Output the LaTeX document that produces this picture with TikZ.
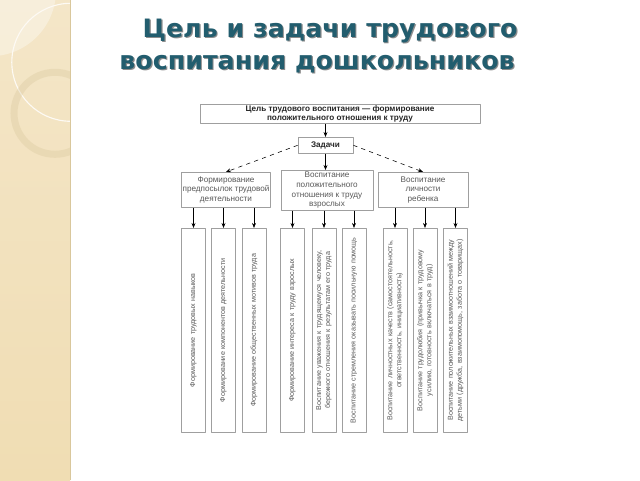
\documentclass[tikz,border=0pt]{standalone}
\usepackage{fontspec}
\setmainfont{Liberation Sans}
\newfontfamily\titlefont{DejaVu Sans}
\usetikzlibrary{arrows.meta}
\definecolor{titleteal}{HTML}{225D6E}
\definecolor{stripA}{HTML}{F4E6C8}
\definecolor{stripB}{HTML}{F0DDB3}
\definecolor{stripedge}{HTML}{D9C79C}
\begin{document}
\begin{tikzpicture}[>={Stealth[length=3.5pt,width=2.8pt]},line join=round,
	box/.style={draw=gray!75,line width=0.5pt,fill=white,inner sep=1pt,align=center,text=black!65,font=\fontsize{5.8}{6.8}\selectfont},
	vbox/.style={box,rotate=90,minimum width=5.1cm,minimum height=0.6cm,text width=5cm,font=\fontsize{5.1}{6.4}\selectfont},
	headbox/.style={box,text=black!85,font=\bfseries\fontsize{5.8}{6.3}\selectfont},
	ttl/.style={font=\titlefont\bfseries\fontsize{18}{20}\selectfont,text=titleteal,inner sep=0pt}]
	% background and left strip
	\fill[white] (0,0) rectangle (16,-12);
	\shade[top color=stripA,bottom color=stripB] (0,0) rectangle (1.75,-12);
	\begin{scope}
		\clip (0,0) rectangle (1.75,-12);
		\fill[white,opacity=0.35] (-0.25,0.25) circle (1.65);
		\draw[white!80!stripA,line width=0.8pt] (1.77,-1.55) circle (1.475);
		\draw[stripedge,opacity=0.35,line width=5pt] (1.375,-2.825) circle (1.025);
	\end{scope}
	\draw[stripedge] (1.75,0)--(1.75,-12);
	% title
	\node[ttl,text=black!45] (ttl1s) at (8.28,-0.805) {Цель и задачи трудового};
	\node[ttl] (ttl1) at (8.25,-0.775) {Цель и задачи трудового};
	\node[ttl,text=black!45] (ttl2s) at (7.955,-1.63) {воспитания дошкольников};
	\node[ttl] (ttl2) at (7.925,-1.6) {воспитания дошкольников};
	% scheme
	\node[headbox,minimum width=7cm,minimum height=0.475cm] (goal) at (8.5,-2.8375) {Цель трудового воспитания — формирование\\положительного отношения к труду};
	\node[headbox,minimum width=1.375cm,minimum height=0.4cm] (tasks) at (8.1375,-3.625) {Задачи};
	\node[box,minimum width=2.2cm,minimum height=0.875cm] (pre) at (5.65,-4.7375) {Формирование\\предпосылок трудовой\\деятельности};
	\node[box,minimum width=2.3cm,minimum height=1cm] (att) at (8.175,-4.75) {Воспитание\\положительного\\отношения к труду\\взрослых};
	\node[box,minimum width=2.25cm,minimum height=0.875cm] (pers) at (10.575,-4.7375) {Воспитание\\личности\\ребенка};
	\draw[->] (goal.south -| tasks.north)--(tasks.north);
	\draw[->,dashed] (tasks.west)--(pre.north);
	\draw[->,dashed] (tasks.east)--(pers.north);
	\draw[->] (tasks.south)--(tasks.south |- att.north);
	\foreach \x/\p/\t [count=\i] in {
		4.8375/pre/{Формирование трудовых навыков},
		5.5875/pre/{Формирование компонентов деятельности},
		6.35/pre/{Формирование общественных мотивов труда},
		7.3125/att/{Формирование интереса к труду взрослых},
		8.1/att/{Воспитание уважения к трудящемуся человеку,\\бережного отношения к результатам его труда},
		8.85/att/{Воспитание стремления оказывать посильную помощь},
		9.875/pers/{Воспитание личностных качеств (самостоятельность,\\ответственность, инициативность)},
		10.625/pers/{Воспитание трудолюбия (привычка к трудовому\\усилию, готовность включаться в труд)},
		11.3875/pers/{Воспитание положительных взаимоотношений между\\детьми (дружба, взаимопомощь, забота о товарищах)}}{
		\node[vbox] (v\i) at (\x,-8.25) {\t};
		\draw[->] (\p.south -| v\i.east)--(v\i.east);
	}
\end{tikzpicture}
\end{document}
